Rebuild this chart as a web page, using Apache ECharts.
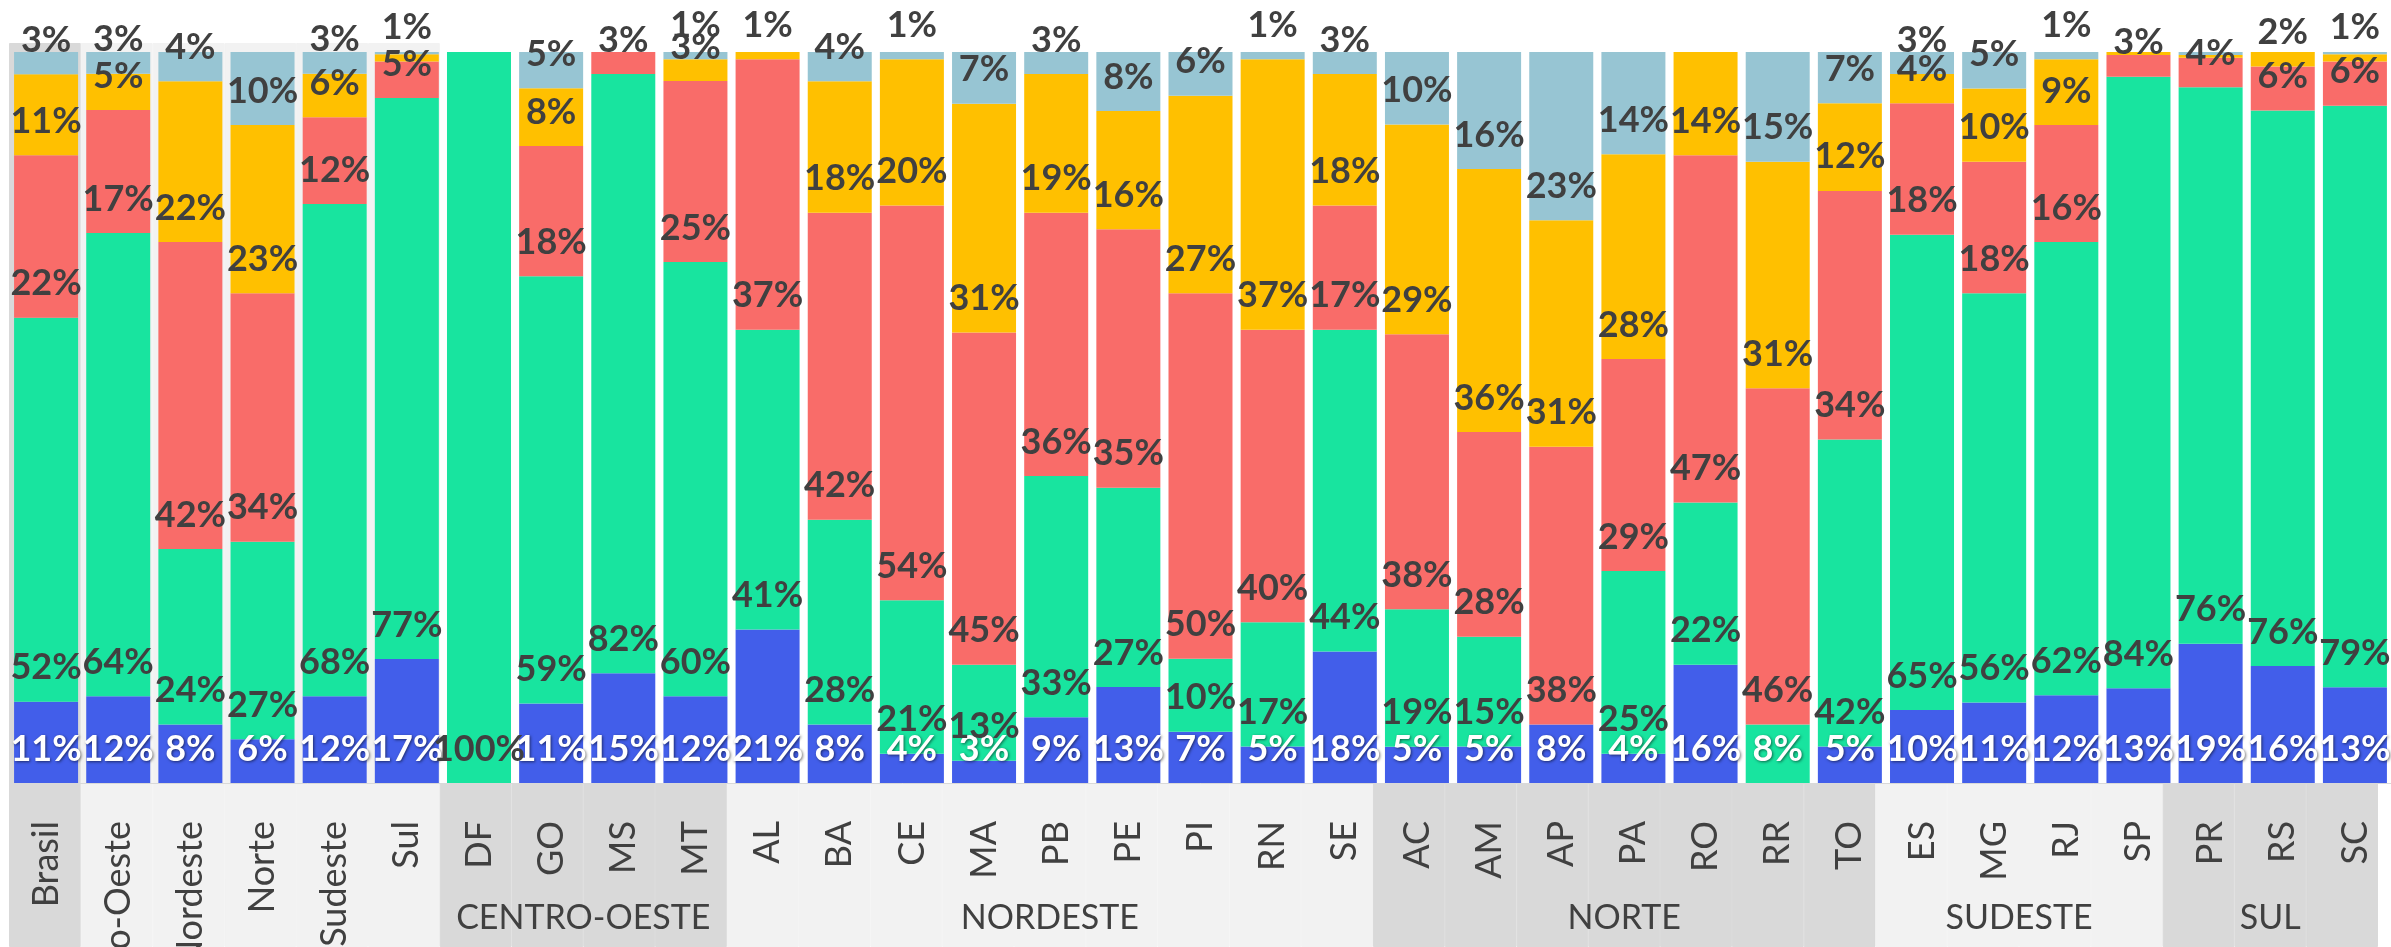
<!DOCTYPE html>
<html>
<head>
<meta charset="utf-8">
<script src="https://cdn.jsdelivr.net/npm/echarts@6/dist/echarts.min.js"></script>
<style>
html,body{margin:0;padding:0;background:#ffffff;}
#chart{width:2391px;height:947px;}
</style>
</head>
<body>
<div id="chart"></div>
<script>
// ---------- DATA ----------
const categories = ['Brasil','Centro-Oeste','Nordeste','Norte','Sudeste','Sul',
  'DF','GO','MS','MT',
  'AL','BA','CE','MA','PB','PE','PI','RN','SE',
  'AC','AM','AP','PA','RO','RR','TO',
  'ES','MG','RJ','SP',
  'PR','RS','SC'];

// series, bottom to top (values in %)
const serieAzul     = [11,12,8,6,12,17, 0,11,15,12, 21,8,4,3,9,13,7,5,18, 5,5,8,4,16,0,5, 10,11,12,13, 19,16,13];
const serieVerde    = [52,64,24,27,68,77, 100,59,82,60, 41,28,21,13,33,27,10,17,44, 19,15,0,25,22,8,42, 65,56,62,84, 76,76,79];
const serieVermelha = [22,17,42,34,12,5, 0,18,3,25, 37,42,54,45,36,35,50,40,17, 38,28,38,29,47,46,34, 18,18,16,3, 4,6,6];
const serieAmarela  = [11,5,22,23,6,1, 0,8,0,3, 1,18,20,31,19,16,27,37,18, 29,36,31,28,14,31,12, 4,10,9,0.4, 0.4,2,1];
const serieCinza    = [3,3,4,10,3,0.3, 0,5,0,1, 0,4,1,7,3,8,6,1,3, 10,16,23,14,0,15,7, 3,5,1,0, 0.4,0,0.3];

// groups of the lower category level
const groupNames = ['CENTRO-OESTE','NORDESTE','NORTE','SUDESTE','SUL'];
const groupFirst = ['DF','AL','AC','ES','PR'];
const groupLast  = ['MT','SE','TO','SP','SC'];
const topLevel   = ['Brasil','Centro-Oeste','Nordeste','Norte','Sudeste','Sul'];

// ---------- STYLE ----------
const colors = ['#425EEA','#18E49F','#F96C69','#FFC000','#97C5D3'];
const darkText = '#404040';
const bandDark = '#D9D9D9', bandLight = '#F2F2F2';
const whiteLabelCats = ['RR'];

const allSeries = [serieAzul, serieVerde, serieVermelha, serieAmarela, serieCinza];
const totals = categories.map((c,i)=>allSeries.reduce((s,a)=>s+a[i],0));

function bandColorOf(cat){
  if (cat === 'Brasil') return bandDark;
  if (topLevel.indexOf(cat) >= 0) return bandLight;
  const idx = categories.indexOf(cat);
  for (let g=0; g<groupNames.length; g++){
    const a = categories.indexOf(groupFirst[g]), b = categories.indexOf(groupLast[g]);
    if (idx>=a && idx<=b) return (g%2===0) ? bandDark : bandLight;
  }
  return bandLight;
}
const lowerFrac = 164/904;
const bandData = categories.map(c=>{
  const col = bandColorOf(c);
  return {value: topLevel.indexOf(c)>=0 ? 1 : lowerFrac,
          itemStyle:{color:col, borderColor:col, borderWidth:1}};
});

const fontFam = 'Lato, "Open Sans", sans-serif';
const shadowLabel = {color:'#ffffff', textShadowColor:'rgba(0,0,0,0.55)', textShadowBlur:3, textShadowOffsetX:1, textShadowOffsetY:1.5};

const mainSeries = allSeries.map((arr,k)=>({
  type:'bar', name:'S'+(k+1), stack:'total', xAxisIndex:0, yAxisIndex:0,
  barWidth:64, z:3,
  itemStyle:{color:colors[k]},
  label:Object.assign({
    show:true, position:'insideBottom', distance:16,
    fontFamily:fontFam, fontWeight:'bold', fontSize:36,
    formatter:p=>{const v=arr[p.dataIndex]; return v>=1 ? Math.round(v)+'%' : '';}
  }, k===0 ? shadowLabel : {color:darkText}),
  data: arr.map((v,i)=>{
    const item = {value: totals[i] ? v/totals[i]*100 : 0};
    if (k===1 && whiteLabelCats.indexOf(categories[i])>=0) item.label = shadowLabel;
    return item;
  })
}));

const chart = echarts.init(document.getElementById('chart'), null, {renderer:'canvas'});
chart.setOption({
  animation:false,
  backgroundColor:'#ffffff',
  grid:[
    {left:10, right:0, top:52, bottom:164, containLabel:false, outerBoundsMode:'none'},
    {left:9, right:13, top:43, bottom:0, containLabel:false, outerBoundsMode:'none'}
  ],
  xAxis:[
    {type:'category', gridIndex:0, data:categories,
     axisTick:{show:false},
     axisLine:{show:true, lineStyle:{color:'#D9D9D9', width:1}},
     axisLabel:{interval:0, rotate:90, margin:38, fontSize:36, fontFamily:fontFam, color:darkText, hideOverlap:false},
     z:5},
    {type:'category', gridIndex:1, data:categories, show:false}
  ],
  yAxis:[
    {type:'value', gridIndex:0, min:0, max:100, show:false},
    {type:'value', gridIndex:1, min:0, max:1, show:false}
  ],
  series:[
    {type:'bar', name:'bands', xAxisIndex:1, yAxisIndex:1, barCategoryGap:'0%', z:0,
     silent:true, data:bandData}
  ].concat(mainSeries)
});

// group labels centred under their categories (positions from the axis scale)
const gfx = groupNames.map((g,i)=>{
  const x1 = chart.convertToPixel({xAxisIndex:1}, groupFirst[i]);
  const x2 = chart.convertToPixel({xAxisIndex:1}, groupLast[i]);
  return {type:'text', x:(x1+x2)/2, y:918, z:10, silent:true,
    style:{text:g, fontSize:34, fontFamily:fontFam, fill:darkText, align:'center', verticalAlign:'middle'}};
});
chart.setOption({graphic:gfx});
</script>
</body>
</html>
